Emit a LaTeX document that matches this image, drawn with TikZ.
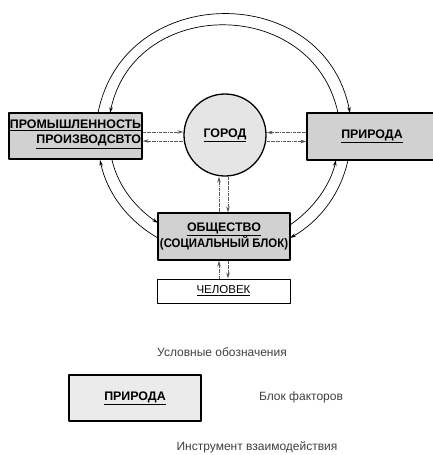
\documentclass[tikz,border=0pt]{standalone}
\usepackage{fontspec}
\setmainfont{Liberation Sans}
\usetikzlibrary{arrows.meta}
\begin{document}
\begin{tikzpicture}[x=1pt,y=-1pt,line join=round,>={Stealth[length=6pt,width=3.5pt]},
	blok/.style={draw,line width=1.3pt,fill=black!18,inner sep=0pt,font=\fontsize{12.4}{13}\selectfont\bfseries},
	svyaz/.style={->,densely dashdotted,black!65,line width=0.6pt},
	duga/.style={->,line width=0.7pt}]
	\useasboundingbox (0,0) rectangle (433,455);
	\clip (0,0) rectangle (433,455);
	\node[blok,minimum width=133pt,minimum height=46pt,align=right,text depth=8pt,font=\fontsize{12.4}{15}\selectfont\bfseries] (prom) at (75.5,136) {\underline{ПРОМЫШЛЕННОСТЬ}\\\underline{ПРОИЗВОДСВТО}};
	\node[blok,circle,fill=black!10,minimum size=82pt] (gorod) at (225,135) {\underline{ГОРОД}};
	\node[blok,minimum width=130pt,minimum height=47pt] (prir) at (372,136.5) {\underline{ПРИРОДА}};
	\node[blok,minimum width=132pt,minimum height=47pt,align=center,font=\fontsize{12.4}{16}\selectfont\bfseries] (obsh) at (224,236.5) {\underline{ОБЩЕСТВО}\\\scalebox{0.92}[1]{(СОЦИАЛЬНЫЙ БЛОК)}};
	\node[draw,line width=1pt,fill=white,minimum width=133pt,minimum height=24pt,inner sep=0pt,font=\fontsize{11.5}{13}\selectfont] (chel) at (223.5,291) {\underline{ЧЕЛОВЕК}};
	\coordinate (pv1) at (98,113); \coordinate (pv2) at (110,113);
	\coordinate (pn1) at (100,160); \coordinate (pn2) at (112,160);
	\coordinate (rv1) at (338,113); \coordinate (rv2) at (350,113);
	\coordinate (rn1) at (336,160); \coordinate (rn2) at (348,160);
	\coordinate (ol1) at (158,223); \coordinate (ol2) at (158,238);
	\coordinate (or1) at (290,225); \coordinate (or2) at (290,238);
	\draw[duga] (pv1) .. controls +(26,-132) and +(-26,-132) .. (rv2);
	\draw[duga] (rv1) .. controls +(-25,-117) and +(25,-117) .. (pv2);
	\draw[duga] (ol2) .. controls +(-30,-17) and +(7,33) .. (pn1);
	\draw[duga] (pn2) .. controls +(6,26) and +(-23,-16) .. (ol1);
	\draw[duga] (or1) .. controls +(23,-16) and +(-6,26) .. (rn1);
	\draw[duga] (rn2) .. controls +(-7,33) and +(30,-17) .. (or2);
	\draw[svyaz] ([yshift=4pt]prom.east) -- ([yshift=4pt]prom.east -| gorod.west);
	\draw[svyaz] ([yshift=-5pt]prom.east -| gorod.west) -- ([yshift=-5pt]prom.east);
	\draw[svyaz] ([yshift=4pt]prir.west) -- ([yshift=4pt]prir.west -| gorod.east);
	\draw[svyaz] ([yshift=-5pt]prir.west -| gorod.east) -- ([yshift=-5pt]prir.west);
	\draw[svyaz] ([xshift=-5pt]obsh.north) -- ([xshift=-5pt]obsh.north |- gorod.south);
	\draw[svyaz] ([xshift=4pt]obsh.north |- gorod.south) -- ([xshift=4pt]obsh.north);
	\draw[svyaz] ([xshift=-5pt]obsh.south |- chel.north) -- ([xshift=-5pt]obsh.south);
	\draw[svyaz] ([xshift=4pt]obsh.south) -- ([xshift=4pt]obsh.south |- chel.north);
	\begin{scope}[every node/.style={font=\fontsize{12}{14}\selectfont,text=black!75}]
		\node (usl) at (222,352) {Условные обозначения};
		\node (legt) at (301,397) {Блок факторов};
		\node (instr) at (257,447) {Инструмент взаимодействия};
	\end{scope}
	\node[blok,fill=black!8,minimum width=132pt,minimum height=46pt] (leg) at (135,398) {\underline{ПРИРОДА}};
\end{tikzpicture}
\end{document}
